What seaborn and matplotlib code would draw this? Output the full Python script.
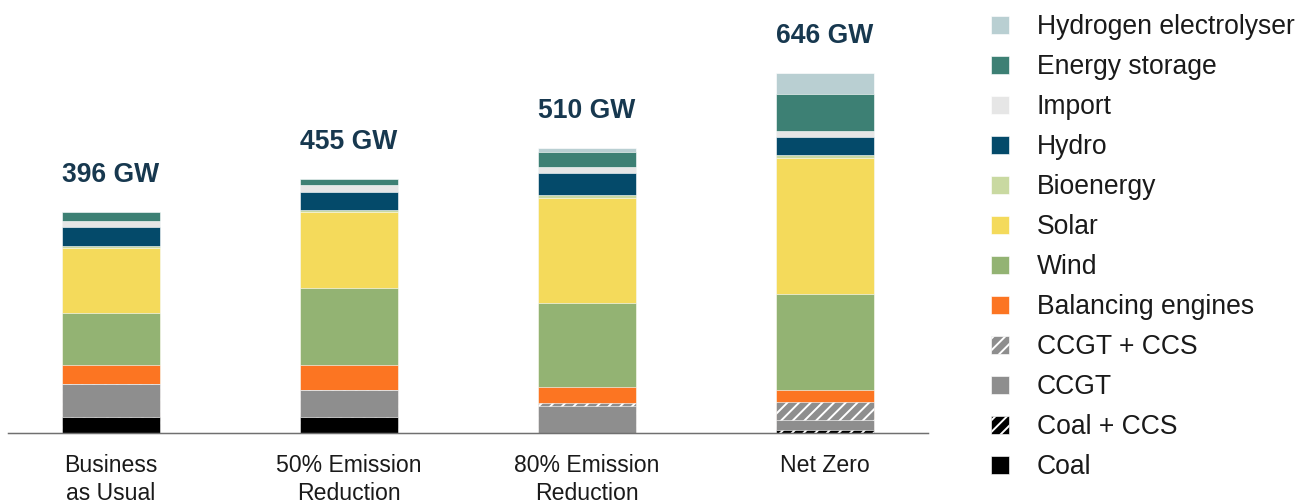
import matplotlib
matplotlib.use("Agg")
import matplotlib.pyplot as plt
from matplotlib.patches import Patch
import numpy as np
import pandas as pd
import seaborn as sns

# ---- data ----
scenarios = ["Business\nas Usual", "50% Emission\nReduction", "80% Emission\nReduction", "Net Zero"]
totals = [396, 455, 510, 646]

coal = [28, 28, 0, 0]
coal_ccs = [0, 0, 0, 5]
ccgt = [60, 49, 48, 17]
ccgt_ccs = [0, 0, 6, 33]
balancing = [33, 44, 28, 22]
wind = [93, 139, 151, 171]
solar = [117, 135, 188, 245]
bioenergy = [4, 5, 6, 5]
hydro = [34, 32, 39, 33]
imports = [11, 12, 11, 11]
storage = [16, 11, 27, 66]
hydrogen = [0, 0, 6, 38]

techs = ["Coal", "Coal + CCS", "CCGT", "CCGT + CCS", "Balancing engines", "Wind",
         "Solar", "Bioenergy", "Hydro", "Import", "Energy storage", "Hydrogen electrolyser"]
series = [coal, coal_ccs, ccgt, ccgt_ccs, balancing, wind, solar, bioenergy,
          hydro, imports, storage, hydrogen]

colors = {
    "Coal": "#000000",
    "Coal + CCS": "#000000",
    "CCGT": "#8e8e8e",
    "CCGT + CCS": "#8e8e8e",
    "Balancing engines": "#fc7522",
    "Wind": "#93b373",
    "Solar": "#f4da5b",
    "Bioenergy": "#c9d9a1",
    "Hydro": "#044a6a",
    "Import": "#e6e6e6",
    "Energy storage": "#3d8074",
    "Hydrogen electrolyser": "#b9cfd2",
}
hatches = {"Coal + CCS": "////", "CCGT + CCS": "////"}

# ---- build long table with cumulative tops ----
rows = []
for t, vals in zip(techs, series):
    for si, s in enumerate(scenarios):
        rows.append({"scenario": s, "tech": t, "value": vals[si]})
df = pd.DataFrame(rows)
df["tech"] = pd.Categorical(df["tech"], categories=techs, ordered=True)
df = df.sort_values(["scenario", "tech"])
df["cum"] = df.groupby("scenario", observed=True)["value"].cumsum()

# ---- figure ----
DPI = 140
W, H = 1302, 503
PT = 72 / DPI  # points per pixel

sns.set_theme(style="white")
plt.rcParams["font.family"] = ["Liberation Sans", "DejaVu Sans"]
plt.rcParams["hatch.linewidth"] = 1.0

fig = plt.figure(figsize=(W / DPI, H / DPI), dpi=DPI)
base_y = 432.7
ax = fig.add_axes([8 / W, (H - base_y) / H, 920 / W, base_y / H])

for t in reversed(techs):
    sub = df[df["tech"] == t]
    sns.barplot(data=sub, x="scenario", y="cum", order=scenarios, color=colors[t],
                saturation=1, width=0.412, errorbar=None, ax=ax,
                hatch=hatches.get(t, None), edgecolor="white", linewidth=0.3)

ax.set_xlim(-0.433, 3.433)
ax.set_ylim(0, base_y / 0.5575)

for i, tot in enumerate(totals):
    ax.annotate(f"{tot} GW", xy=(i, tot), xytext=(0, 30 * PT), textcoords="offset points",
                ha="center", va="baseline", fontsize=26.5 * PT, fontweight="bold",
                color="#17384f")

for side in ["top", "right", "left"]:
    ax.spines[side].set_visible(False)
ax.spines["bottom"].set_color("#707070")
ax.spines["bottom"].set_linewidth(1.5 * PT)
ax.set_yticks([])
ax.set_xlabel("")
ax.set_ylabel("")
ax.tick_params(axis="x", length=0, pad=21 * PT, labelsize=23 * PT, labelcolor="#1a1a1a")
for lab in ax.get_xticklabels():
    lab.set_linespacing(1.32)

# ---- legend ----
handles = [Patch(facecolor=colors[t], edgecolor="white", linewidth=0.3,
                 hatch=hatches.get(t, None), label=t) for t in reversed(techs)]
fig.legend(handles=handles, loc="upper left", bbox_to_anchor=(991 / W, 1 - 14 / H),
           frameon=False, fontsize=26.5 * PT, handlelength=0.68, handleheight=0.68,
           handletextpad=1.05, labelspacing=0.53, borderpad=0, borderaxespad=0,
           labelcolor="#1a1a1a")

fig.savefig("out.png", dpi=DPI)
